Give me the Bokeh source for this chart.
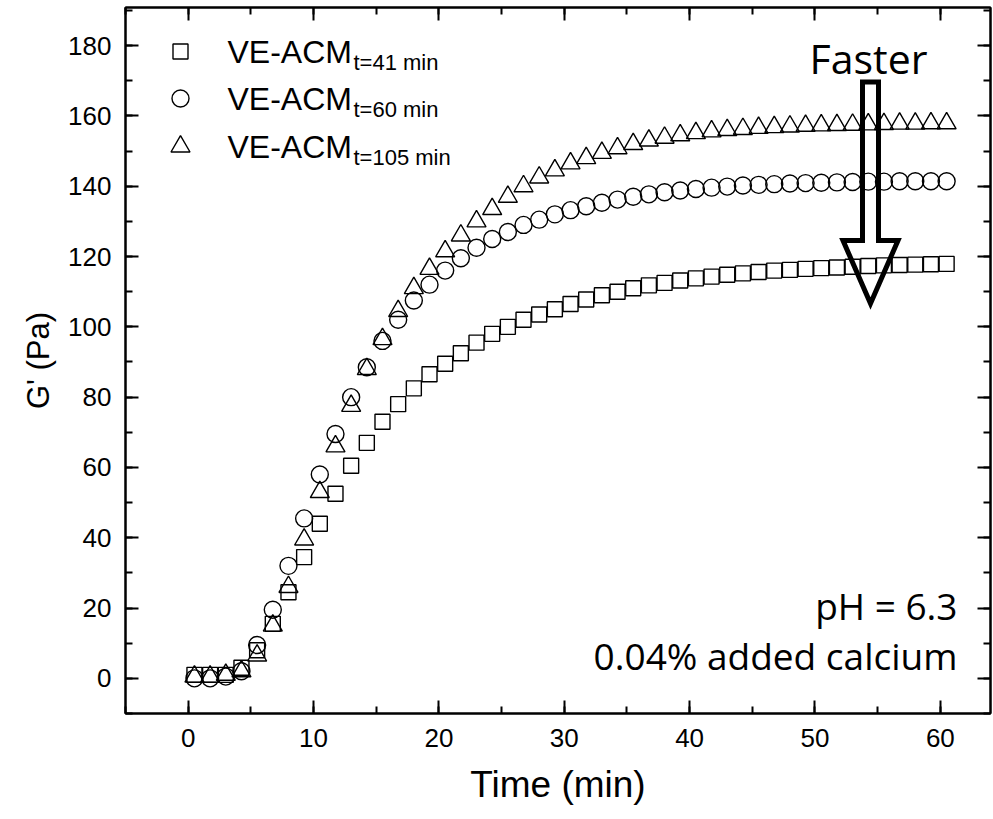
from bokeh.plotting import figure
from bokeh.models import LinearAxis, Range1d, Label, SingleIntervalTicker
from bokeh.embed import file_html
from bokeh.resources import INLINE

# ---------------- data ----------------
time_min = [0.5 + 1.25 * i for i in range(49)]  # sampling times (min)

g_t41 = [1, 1, 1, 3, 8, 15.5, 24.5, 34.5, 44, 52.5, 60.5, 67, 73, 78, 82.5, 86.5,
         89.5, 92.5, 95.5, 98, 100, 102, 103.5, 105, 106.5, 107.8, 109, 110, 111,
         111.8, 112.5, 113.2, 113.8, 114.3, 114.8, 115.2, 115.6, 116, 116.2, 116.5,
         116.7, 116.9, 117.1, 117.3, 117.5, 117.6, 117.7, 117.8, 117.9]

g_t60 = [0, 0, 0.5, 2, 9.5, 19.5, 32, 45.5, 58, 69.5, 80, 88.5, 96, 102, 107.5, 112,
         116, 119.5, 122.5, 125, 127, 129, 130.5, 132, 133.2, 134.3, 135.3, 136.2,
         137, 137.7, 138.3, 138.8, 139.2, 139.6, 139.9, 140.2, 140.4, 140.6, 140.8,
         140.9, 141, 141.1, 141.2, 141.3, 141.3, 141.4, 141.4, 141.4, 141.4]

g_t105 = [0.5, 0.5, 1, 2, 6.5, 15, 26, 39.5, 53, 66, 77.5, 88, 96.5, 104.5, 111,
          116.5, 121.5, 126, 130, 133.5, 137, 140, 142.5, 144.5, 146.5, 148, 149.5,
          150.8, 152, 153, 153.8, 154.5, 155.1, 155.6, 156, 156.3, 156.6, 156.8, 157,
          157.2, 157.3, 157.4, 157.5, 157.6, 157.7, 157.8, 157.8, 157.9, 157.9]

series_names = ["VE-ACM", "VE-ACM", "VE-ACM"]
series_subs = ["t=41 min", "t=60 min", "t=105 min"]
x_ticks_interval = 10
y_ticks_interval = 20

# ---------------- figure geometry ----------------
FRAME_L, FRAME_T = 125, 7
FW, FH = 865, 706
X0, X1 = -5, 64
Y0, Y1 = -10, 190.85

p = figure(frame_width=FW, frame_height=FH,
           x_range=Range1d(X0, X1), y_range=Range1d(Y0, Y1),
           output_backend="svg", toolbar_location=None,
           min_border_left=FRAME_L, min_border_right=2, min_border_top=FRAME_T,
           min_border_bottom=100,
           background_fill_color="white", border_fill_color="white")
p.grid.visible = False
p.outline_line_color = "black"
p.outline_line_width = 2

FONT = "Liberation Sans"

def style_axis(ax, labels=True):
    ax.axis_line_width = 2
    ax.axis_line_color = "black"
    ax.major_tick_line_width = 2
    ax.minor_tick_line_width = 2
    ax.major_tick_in = 13
    ax.major_tick_out = 0
    ax.minor_tick_in = 7
    ax.minor_tick_out = 0
    ax.major_label_text_font = FONT
    ax.major_label_text_font_size = "26px"
    ax.major_label_text_color = "black"
    ax.axis_label_text_font = FONT
    ax.axis_label_text_font_size = "30px"
    ax.axis_label_text_font_style = "normal"
    ax.axis_label_text_color = "black"
    if not labels:
        ax.major_label_text_font_size = "1px"
        ax.major_label_text_color = None
        ax.major_label_text_alpha = 0
        ax.major_label_standoff = 0

p.xaxis.ticker = SingleIntervalTicker(interval=x_ticks_interval, num_minor_ticks=2)
p.yaxis.ticker = SingleIntervalTicker(interval=y_ticks_interval, num_minor_ticks=2)
style_axis(p.xaxis[0])
style_axis(p.yaxis[0])
p.xaxis.axis_label = "Time (min)"
p.yaxis.axis_label = "G' (Pa)"
p.xaxis.axis_label_text_font_size = "37px"
p.yaxis.axis_label_text_font_size = "31px"
p.xaxis.major_label_standoff = 15
p.yaxis.major_label_standoff = 14
p.xaxis.axis_label_standoff = 14
p.yaxis.axis_label_standoff = 9

top = LinearAxis(ticker=SingleIntervalTicker(interval=x_ticks_interval, num_minor_ticks=2))
style_axis(top, labels=False)
p.add_layout(top, "above")
right = LinearAxis(ticker=SingleIntervalTicker(interval=y_ticks_interval, num_minor_ticks=2))
style_axis(right, labels=False)
p.add_layout(right, "right")

# ---------------- data marks ----------------
mk = dict(fill_alpha=0, line_color="black", line_width=1.4)
p.scatter(time_min, g_t41, marker="square", size=15, **mk)
p.scatter(time_min, g_t60, marker="circle", size=17, **mk)
p.scatter(time_min, g_t105, marker="triangle", size=19, **mk)

# ---------------- pixel -> data helpers (annotation placement) ----------------
PX_PER_X = FW / (X1 - X0)
PX_PER_Y = FH / (Y1 - Y0)

def dx(px):
    return X0 + (px - FRAME_L) / PX_PER_X

def dy(py):
    return Y1 - (py - FRAME_T) / PX_PER_Y

# ---------------- legend (manual, to allow subscripts) ----------------
markers = [("square", 15), ("circle", 17), ("triangle", 19)]
row_py = [51, 98, 146]
for (m, s), ry, name, sub in zip(markers, row_py, series_names, series_subs):
    p.scatter([dx(180)], [dy(ry)], marker=m, size=s, **mk)
    p.add_layout(Label(x=dx(227), y=dy(ry), text=name, text_font=FONT,
                       text_font_size="32px", text_color="black",
                       text_baseline="middle", text_align="left"))
    p.add_layout(Label(x=dx(353), y=dy(ry + 11), text=sub, text_font=FONT,
                       text_font_size="22px", text_color="black",
                       text_baseline="middle", text_align="left"))

# ---------------- annotations ----------------
ANN_FONT = "Open Sans"
p.add_layout(Label(x=dx(868), y=dy(57), text="Faster", text_font=ANN_FONT,
                   text_font_size="41px", text_color="black",
                   text_align="center", text_baseline="middle"))
p.add_layout(Label(x=dx(957), y=dy(605), text="pH = 6.3", text_font=ANN_FONT,
                   text_font_size="37px", text_color="black",
                   text_align="right", text_baseline="middle"))
p.add_layout(Label(x=dx(957), y=dy(655), text="0.04% added calcium", text_font=ANN_FONT,
                   text_font_size="37px", text_color="black",
                   text_align="right", text_baseline="middle"))

# hollow block arrow
cx = dx(870)
sw = 8 / PX_PER_X
hw = 27.5 / PX_PER_X
y_top, y_head, y_tip = dy(81.5), dy(240), dy(303)
p.patch([cx - sw, cx + sw, cx + sw, cx + hw, cx, cx - hw, cx - sw],
        [y_top, y_top, y_head, y_head, y_tip, y_head, y_head],
        fill_alpha=0, line_color="black", line_width=5, line_join="miter")

open("out.html", "w").write(file_html(p, INLINE))
